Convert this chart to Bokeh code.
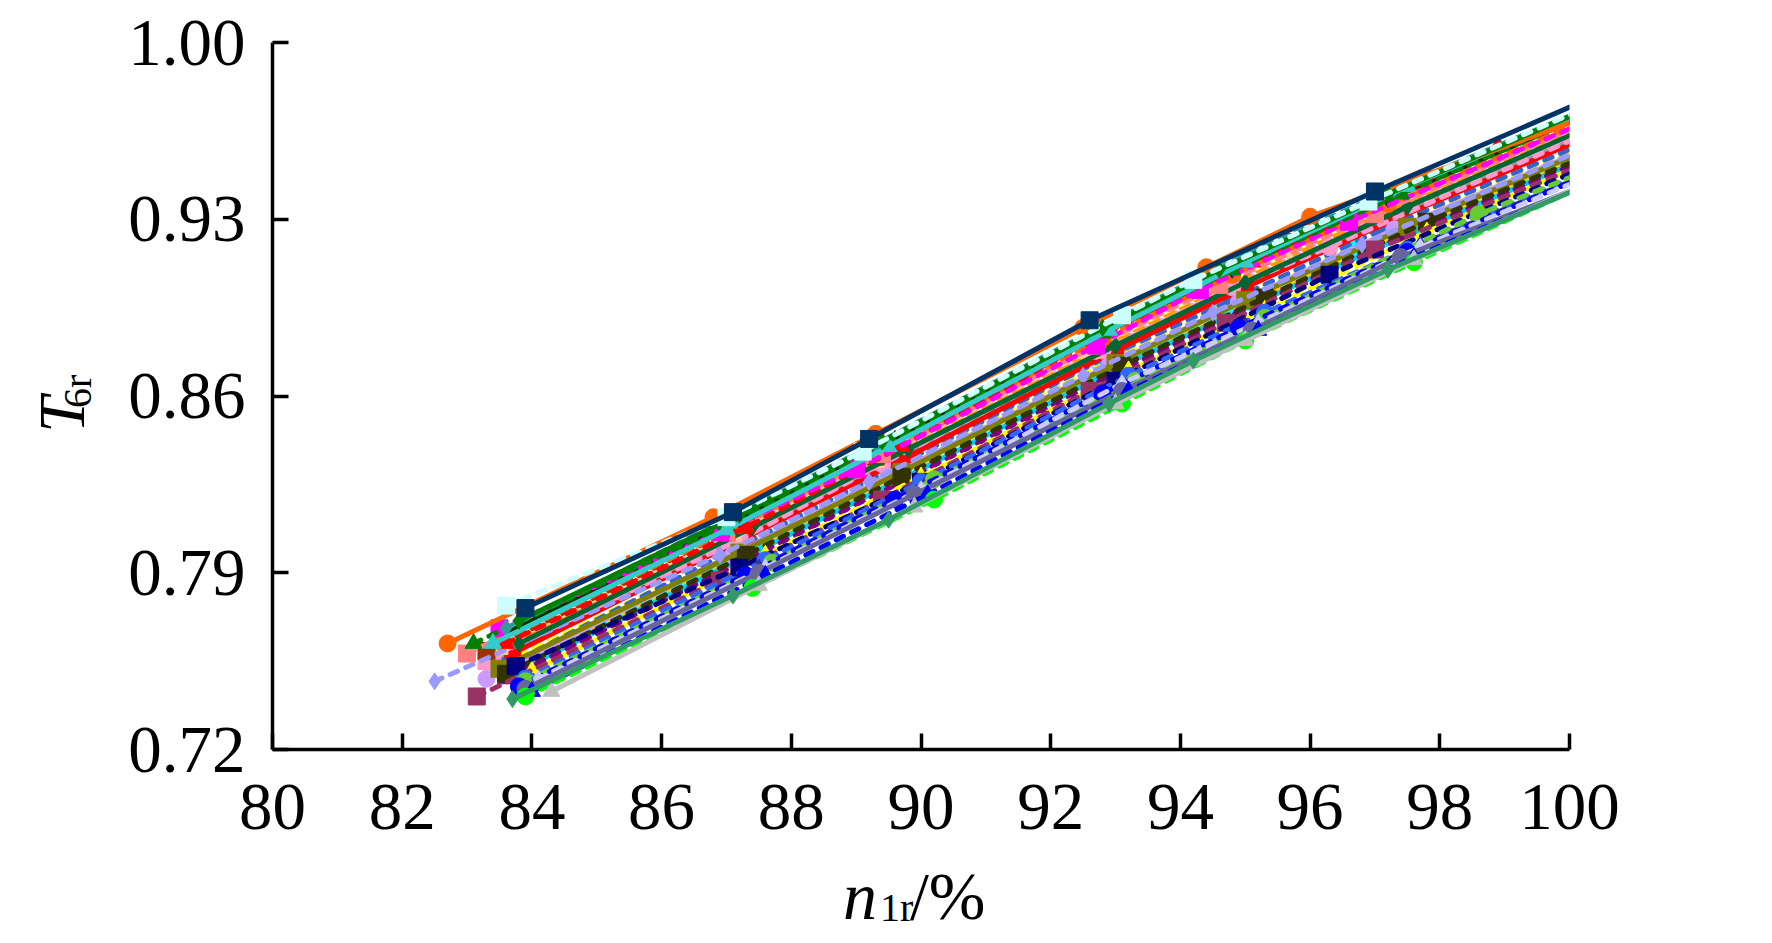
from bokeh.embed import file_html
from bokeh.models import FixedTicker, Label, PrintfTickFormatter, Range1d
from bokeh.plotting import figure
from bokeh.resources import INLINE

# tick values
x_ticks = [80, 82, 84, 86, 88, 90, 92, 94, 96, 98, 100]
y_ticks = [0.72, 0.79, 0.86, 0.93, 1.00]

# one list per measured speed line (last point lies past the 100 % edge)
x_series = [
    [83.4, 87.0, 89.3, 92.7, 94.6, 97.0, 101.5],
    [83.8, 87.4, 89.8, 92.9, 94.8, 97.3, 101.5],
    [83.9, 87.6, 90.1, 93.2, 95.2, 97.6, 101.5],
    [83.5, 87.4, 89.8, 93.0, 94.9, 97.4, 101.5],
    [83.7, 87.5, 90.0, 93.1, 95.1, 97.6, 101.5],
    [83.6, 87.2, 89.6, 92.9, 94.7, 96.7, 101.5],
    [83.5, 87.1, 89.5, 92.9, 95.0, 97.0, 101.5],
    [83.6, 87.3, 89.7, 93.0, 94.9, 97.4, 101.5],
    [83.3, 87.0, 89.2, 92.6, 94.5, 96.9, 101.5],
    [83.7, 87.3, 89.6, 92.9, 94.8, 97.2, 101.5],
    [83.4, 87.0, 89.5, 92.7, 94.7, 97.0, 101.5],
    [83.6, 87.1, 89.6, 92.9, 94.8, 97.1, 101.5],
    [83.7, 87.3, 89.8, 93.0, 95.0, 97.3, 101.5],
    [83.4, 87.2, 89.4, 92.8, 94.8, 96.3, 101.5],
    [83.5, 87.1, 89.3, 92.6, 95.6, 97.1, 101.5],
    [83.3, 87.0, 89.3, 92.8, 95.7, 97.8, 101.5],
    [83.3, 87.1, 89.5, 92.9, 94.9, 97.3, 101.5],
    [83.5, 87.2, 89.7, 93.0, 95.0, 97.5, 101.5],
    [83.6, 87.3, 89.7, 93.1, 95.3, 97.8, 101.5],
    [84.0, 87.6, 90.0, 93.2, 95.3, 97.8, 101.5],
    [82.5, 86.9, 89.2, 92.5, 94.5, 96.8, 101.5],
    [83.15, 86.9, 89.4, 92.6, 94.7, 97.0, 101.5],
    [83.75, 87.2, 90.0, 93.0, 96.3, 101.5],
    [83.9, 87.6, 90.0, 93.2, 95.3, 97.5, 101.5],
    [83.8, 87.5, 90.1, 93.2, 95.0, 97.7, 101.5],
    [83.9, 87.7, 90.2, 93.3, 95.3, 98.6, 101.5],
    [83.8, 87.3, 89.6, 92.8, 94.9, 97.5, 101.5],
    [84.1, 87.6, 90.0, 93.1, 95.2, 97.7, 101.5],
    [83.9, 87.5, 89.9, 93.1, 95.1, 97.4, 101.5],
    [84.0, 87.6, 90.1, 93.2, 95.2, 97.6, 101.5],
    [83.9, 87.4, 90.2, 93.1, 95.0, 97.6, 101.5],
    [84.3, 87.5, 89.9, 93.0, 95.0, 97.6, 101.5],
    [83.8, 87.4, 89.8, 93.0, 95.0, 97.5, 101.5],
    [83.0, 87.0, 89.4, 92.7, 94.6, 97.0, 101.5],
    [83.5, 87.2, 89.5, 92.8, 94.8, 97.2, 101.5],
    [83.6, 87.2, 89.6, 92.9, 94.8, 97.2, 101.5],
    [83.6, 87.3, 89.7, 92.6, 95.1, 98.9, 101.5],
    [83.5, 86.9, 89.0, 92.7, 94.3, 96.6, 101.5],
    [83.1, 87.0, 89.4, 92.8, 94.8, 97.4, 101.5],
    [83.6, 87.0, 89.3, 92.6, 95.0, 97.3, 101.5],
    [83.4, 87.0, 89.5, 92.9, 95.0, 97.5, 101.5],
    [82.7, 86.8, 89.3, 92.5, 94.4, 96.0, 101.5],
    [83.7, 87.1, 89.5, 92.9, 94.2, 97.2, 101.5],
    [83.8, 87.2, 89.4, 92.8, 94.6, 97.2, 101.5],
    [83.6, 87.0, 89.1, 93.1, 94.2, 96.9, 101.5],
    [83.9, 87.1, 89.2, 92.6, 97.0, 101.5],
]
y_series = [
    [0.755, 0.800, 0.830, 0.874, 0.898, 0.927, 0.976],
    [0.757, 0.802, 0.834, 0.874, 0.898, 0.927, 0.973],
    [0.755, 0.802, 0.835, 0.875, 0.899, 0.927, 0.970],
    [0.751, 0.801, 0.832, 0.873, 0.897, 0.926, 0.971],
    [0.750, 0.799, 0.831, 0.872, 0.896, 0.925, 0.968],
    [0.751, 0.797, 0.828, 0.871, 0.894, 0.919, 0.970],
    [0.757, 0.802, 0.834, 0.878, 0.904, 0.928, 0.977],
    [0.748, 0.795, 0.826, 0.869, 0.893, 0.923, 0.967],
    [0.755, 0.803, 0.831, 0.876, 0.900, 0.929, 0.979],
    [0.762, 0.808, 0.838, 0.881, 0.905, 0.933, 0.980],
    [0.761, 0.806, 0.838, 0.880, 0.905, 0.933, 0.982],
    [0.753, 0.799, 0.832, 0.876, 0.898, 0.926, 0.974],
    [0.758, 0.804, 0.836, 0.878, 0.903, 0.930, 0.976],
    [0.757, 0.803, 0.833, 0.878, 0.903, 0.919, 0.978],
    [0.761, 0.806, 0.835, 0.878, 0.918, 0.936, 0.983],
    [0.759, 0.806, 0.836, 0.883, 0.921, 0.946, 0.983],
    [0.748, 0.797, 0.828, 0.872, 0.897, 0.926, 0.971],
    [0.752, 0.798, 0.830, 0.873, 0.898, 0.927, 0.971],
    [0.750, 0.797, 0.828, 0.872, 0.899, 0.929, 0.968],
    [0.751, 0.797, 0.828, 0.870, 0.894, 0.925, 0.966],
    [0.747, 0.797, 0.826, 0.868, 0.893, 0.920, 0.972],
    [0.741, 0.787, 0.819, 0.862, 0.889, 0.918, 0.965],
    [0.753, 0.792, 0.826, 0.866, 0.908, 0.964],
    [0.748, 0.795, 0.826, 0.868, 0.893, 0.918, 0.963],
    [0.745, 0.792, 0.826, 0.865, 0.888, 0.920, 0.961],
    [0.747, 0.794, 0.827, 0.866, 0.891, 0.932, 0.962],
    [0.745, 0.789, 0.819, 0.861, 0.887, 0.917, 0.961],
    [0.748, 0.792, 0.823, 0.865, 0.889, 0.919, 0.960],
    [0.744, 0.790, 0.821, 0.862, 0.886, 0.915, 0.956],
    [0.743, 0.789, 0.821, 0.862, 0.886, 0.915, 0.957],
    [0.741, 0.784, 0.819, 0.857, 0.882, 0.913, 0.958],
    [0.743, 0.785, 0.816, 0.857, 0.882, 0.914, 0.958],
    [0.762, 0.808, 0.839, 0.880, 0.905, 0.935, 0.980],
    [0.758, 0.806, 0.837, 0.880, 0.904, 0.932, 0.982],
    [0.763, 0.809, 0.840, 0.883, 0.908, 0.936, 0.983],
    [0.766, 0.811, 0.843, 0.886, 0.910, 0.938, 0.985],
    [0.762, 0.808, 0.840, 0.882, 0.913, 0.959, 0.985],
    [0.768, 0.806, 0.831, 0.880, 0.902, 0.929, 0.982],
    [0.762, 0.809, 0.840, 0.885, 0.910, 0.940, 0.985],
    [0.768, 0.811, 0.841, 0.885, 0.916, 0.942, 0.987],
    [0.762, 0.807, 0.840, 0.886, 0.913, 0.943, 0.986],
    [0.762, 0.812, 0.845, 0.887, 0.911, 0.931, 0.982],
    [0.740, 0.781, 0.811, 0.857, 0.874, 0.910, 0.957],
    [0.771, 0.813, 0.842, 0.887, 0.910, 0.940, 0.987],
    [0.777, 0.812, 0.838, 0.892, 0.906, 0.937, 0.988],
    [0.776, 0.814, 0.843, 0.890, 0.941, 0.991],
]

line_colors = [
    "#99CCFF", "#FFFF00", "#FFCC00", "#0066CC", "#00CCFF", "#00FFFF",
    "#969696", "#800080", "#FF99CC", "#FF9900", "#FFFF99", "#3366CC",
    "#FF0000", "#FF99CC", "#FFCC99", "#993300", "#CC99FF", "#808000",
    "#333300", "#FFFF00", "#9999FF", "#993366", "#000080", "#3366FF",
    "#333399", "#66CC33", "#0000FF", "#CCCCFF", "#666699", "#0000FF",
    "#00FF00", "#C0C0C0", "#006633", "#FF8080", "#FF6600", "#003300",
    "#FF0000", "#FF00FF", "#008000", "#339999", "#33CCCC", "#FF6600",
    "#339966", "#008000", "#CCFFFF", "#003366",
]
marker_types = [
    "circle", "triangle", "star", "diamond", "triangle", "square",
    "square", "triangle", "square", "triangle", "diamond", "square",
    "circle", "circle", "square", "square", "circle", "square",
    "square", "triangle", "diamond", "square", "square", "circle",
    "diamond", "circle", "circle", "diamond", "circle", "triangle",
    "circle", "triangle", "diamond", "square", "circle", "diamond",
    "triangle", "square", "triangle", "diamond", "triangle", "circle",
    "diamond", "diamond", "square", "square",
]
dashed = [
    True, True, True, True, False, True,
    True, True, True, True, True, True,
    False, True, True, True, False, False,
    True, True, True, True, True, True,
    True, True, True, True, False, True,
    True, False, False, True, True, False,
    True, True, True, True, False, False,
    False, False, True, False,
]

serif = "Liberation Serif"

p = figure(
    width=1756,
    height=927,
    x_range=Range1d(80, 100),
    y_range=Range1d(0.72, 1.00),
    output_backend="svg",
    toolbar_location=None,
    min_border_left=272,
    min_border_right=187,
    min_border_top=42,
    min_border_bottom=178,
)
p.grid.visible = False
p.outline_line_color = None

for xs, ys, c, m, d in zip(x_series, y_series, line_colors, marker_types, dashed):
    p.line(xs, ys, color=c, line_width=5, line_dash="8 9" if d else "solid", line_cap="round")
    p.scatter(xs, ys, marker=m, size=17, color=c)

for ax in (p.xaxis[0], p.yaxis[0]):
    ax.axis_line_width = 3.5
    ax.axis_line_color = "black"
    ax.major_tick_line_width = 3.5
    ax.major_tick_in = 16
    ax.major_tick_out = 0
    ax.minor_tick_line_color = None
    ax.major_label_text_font = serif
    ax.major_label_text_font_size = "67px"
    ax.major_label_text_color = "black"

p.xaxis.ticker = FixedTicker(ticks=x_ticks)
p.yaxis.ticker = FixedTicker(ticks=y_ticks)
p.xaxis.formatter = PrintfTickFormatter(format="%d")
p.yaxis.formatter = PrintfTickFormatter(format="%.2f")
p.xaxis.major_label_standoff = 35
p.yaxis.major_label_standoff = 27

# axis titles with subscripts, built from pieces; kept in side panels so
# they are not clipped to the data frame
label_parts = [
    ("n", 88.796, 0.66180, "68px", "italic", 0.0, "right"),
    ("1r", 89.367, 0.65748, "40px", "normal", 0.0, "below"),
    ("/%", 89.830, 0.66180, "68px", "normal", 0.0, "right"),
    ("T", 76.76, 0.84545, "65px", "italic", 1.5708, "left"),
    ("6r", 76.99, 0.85528, "40px", "normal", 1.5708, "left"),
]
for txt, lx, ly, fs, style, ang, side in label_parts:
    p.add_layout(Label(
        x=lx, y=ly, text=txt, angle=ang,
        text_font=serif, text_font_size=fs, text_font_style=style,
        text_color="black", text_align="left", text_baseline="alphabetic",
    ), side)

open("out.html", "w").write(file_html(p, INLINE))
